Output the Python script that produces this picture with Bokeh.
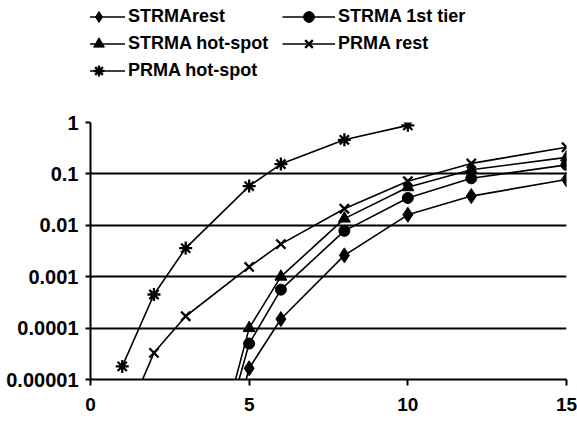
from bokeh.plotting import figure
from bokeh.models import Legend, LegendItem, FixedTicker
from bokeh.layouts import column
from bokeh.embed import file_html
from bokeh.resources import INLINE

# ---- data ----
x_strma = [4, 5, 6, 8, 10, 12, 15]
strma_rest = [8e-8, 1.65e-5, 1.5e-4, 2.6e-3, 0.016, 0.037, 0.078]
strma_1st = [3.2e-7, 5.0e-5, 5.6e-4, 7.8e-3, 0.034, 0.082, 0.15]
strma_hot = [4.7e-7, 1.0e-4, 1.0e-3, 0.0135, 0.055, 0.12, 0.21]

x_prma_rest = [1, 2, 3, 5, 6, 8, 10, 12, 15]
prma_rest = [1.2e-6, 3.3e-5, 1.7e-4, 1.55e-3, 4.3e-3, 0.021, 0.072, 0.16, 0.33]

x_prma_hot = [1, 2, 3, 5, 6, 8, 10]
prma_hot = [1.8e-5, 4.5e-4, 3.6e-3, 0.058, 0.155, 0.46, 0.88]

series_names = ["STRMArest", "STRMA 1st tier", "STRMA hot-spot", "PRMA rest", "PRMA hot-spot"]

y_ticks = [1e-5, 1e-4, 1e-3, 1e-2, 1e-1, 1]
y_tick_labels = ["0.00001", "0.0001", "0.001", "0.01", "0.1", "1"]
x_ticks = [0, 5, 10, 15]

FONT = "Liberation Sans"
LEG_H = 95

# ---------------- main chart ----------------
p = figure(width=577, height=421 - LEG_H, y_axis_type="log",
           x_range=(0, 15), y_range=(1e-5, 1),
           output_backend="svg", toolbar_location=None,
           min_border_left=90, min_border_right=11,
           min_border_top=27, min_border_bottom=42)
p.outline_line_color = None
p.background_fill_color = "white"
p.border_fill_color = "white"

for ax in (p.xaxis[0], p.yaxis[0]):
    ax.axis_line_color = "black"
    ax.axis_line_width = 2
    ax.major_tick_line_color = "black"
    ax.major_tick_line_width = 2
    ax.major_tick_in = 0
    ax.minor_tick_line_color = None
    ax.major_label_text_font = FONT
    ax.major_label_text_font_style = "bold"
    ax.major_label_text_color = "black"

p.yaxis.ticker = FixedTicker(ticks=y_ticks, minor_ticks=[])
p.yaxis.major_label_overrides = {t: l for t, l in zip(y_ticks, y_tick_labels)}
p.yaxis.major_tick_out = 5
p.yaxis.major_label_standoff = 7
p.yaxis.major_label_text_font_size = "20px"

p.xaxis.ticker = FixedTicker(ticks=x_ticks, minor_ticks=[])
p.xaxis.major_tick_out = 6
p.xaxis.major_label_standoff = 12
p.xaxis.major_label_text_font_size = "19px"

p.xgrid.grid_line_color = None
p.ygrid.grid_line_color = "black"
p.ygrid.grid_line_width = 2

LW = 1.6
styles = [("diamond", 15, 1.0), ("circle", 11, 1.0), ("triangle", 12, 1.0),
          ("x", 13, 2.3), ("asterisk", 13, 2.3)]
data = [(x_strma, strma_rest), (x_strma, strma_1st), (x_strma, strma_hot),
        (x_prma_rest, prma_rest), (x_prma_hot, prma_hot)]

for (xs, ys), (mk, sz, mlw) in zip(data, styles):
    p.line(xs, ys, line_color="black", line_width=LW)
    p.scatter(xs, ys, marker=mk, size=sz, fill_color="black",
              line_color="black", line_width=mlw)

# ---------------- legend strip ----------------
# same series, drawn in a view that does not show them; only the legend is visible
lg = figure(width=577, height=LEG_H, x_range=(-100, -99), y_range=(-100, -99),
            output_backend="svg", toolbar_location=None,
            x_axis_location=None, y_axis_location=None,
            min_border_left=0, min_border_right=0,
            min_border_top=0, min_border_bottom=0)
lg.outline_line_color = None
lg.xgrid.visible = False
lg.ygrid.visible = False

items = []
for name, (xs, ys), (mk, sz, mlw) in zip(series_names, data, styles):
    ln = lg.line(xs, ys, line_color="black", line_width=LW)
    sc = lg.scatter(xs, ys, marker=mk, size=sz, fill_color="black",
                    line_color="black", line_width=mlw)
    items.append(LegendItem(label=name, renderers=[ln, sc]))

legend = Legend(items=items, orientation="horizontal", ncols=2,
                location=(-18, 11))
legend.border_line_color = None
legend.background_fill_alpha = 0
legend.padding = 0
legend.margin = 0
legend.glyph_width = 53
legend.glyph_height = 27
legend.label_height = 20
legend.label_standoff = 3
legend.label_width = 154
legend.spacing = 0
legend.label_text_font = FONT
legend.label_text_font_style = "bold"
legend.label_text_font_size = "18px"
legend.label_text_color = "black"
lg.add_layout(legend, "center")

layout = column(lg, p, spacing=0)
open("out.html", "w").write(file_html(layout, INLINE))
